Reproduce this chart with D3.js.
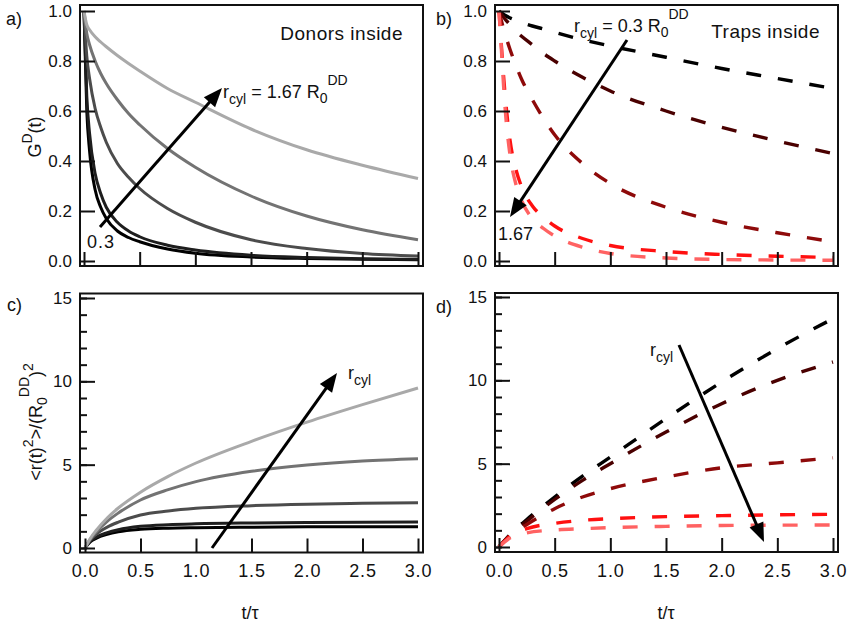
<!DOCTYPE html>
<html>
<head>
<meta charset="utf-8">
<script src="https://cdn.jsdelivr.net/npm/d3@7"></script>
<style>
  html, body { margin: 0; padding: 0; background: #fff; }
  svg { display: block; font-family: "Liberation Sans", Arial, Helvetica, sans-serif; }
</style>
</head>
<body>
<svg id="fig" width="851" height="628"></svg>
<script>
// ---- data -------------------------------------------------------------
// time grids (t / tau)
const tDecay = [0, 0.025, 0.05, 0.1, 0.15, 0.2, 0.3, 0.4, 0.5, 0.75, 1.0, 1.5, 2.0, 2.5, 3.0];
const tMsdDonors = [0, 0.05, 0.1, 0.2, 0.3, 0.5, 0.75, 1.0, 1.5, 2.0, 2.5, 3.0];
const tMsdTraps = [0, 0.1, 0.25, 0.5, 0.75, 1.0, 1.5, 2.0, 2.5, 3.0];

// a) G^D(t), donors inside, r_cyl from 0.3 (black) to 1.67 R0 (light grey)
const donorsG_r030 = [1, 0.60, 0.44, 0.285, 0.215, 0.17, 0.12, 0.094, 0.077, 0.048, 0.031, 0.016, 0.010, 0.007, 0.005];
const donorsG_r050 = [1, 0.66, 0.51, 0.35, 0.27, 0.215, 0.155, 0.12, 0.097, 0.063, 0.044, 0.023, 0.014, 0.009, 0.007];
const donorsG_r080 = [1, 0.82, 0.73, 0.61, 0.535, 0.475, 0.39, 0.335, 0.29, 0.21, 0.155, 0.085, 0.05, 0.03, 0.02];
const donorsG_r120 = [1, 0.91, 0.865, 0.80, 0.75, 0.71, 0.645, 0.59, 0.545, 0.45, 0.375, 0.26, 0.18, 0.125, 0.085];
const donorsG_r167 = [1, 0.945, 0.925, 0.897, 0.876, 0.857, 0.822, 0.79, 0.76, 0.69, 0.635, 0.528, 0.445, 0.383, 0.33];

// b) G^D(t), traps inside
const trapsG_r030 = [1, 0.991, 0.984, 0.972, 0.963, 0.955, 0.94, 0.928, 0.915, 0.885, 0.86, 0.815, 0.77, 0.73, 0.69];
const trapsG_r050 = [1, 0.985, 0.97, 0.945, 0.92, 0.90, 0.865, 0.83, 0.80, 0.735, 0.68, 0.60, 0.535, 0.48, 0.43];
const trapsG_r080 = [1, 0.955, 0.915, 0.845, 0.785, 0.73, 0.645, 0.57, 0.505, 0.39, 0.31, 0.215, 0.155, 0.113, 0.077];
const trapsG_r120 = [1, 0.84, 0.69, 0.48, 0.37, 0.30, 0.22, 0.175, 0.14, 0.09, 0.062, 0.038, 0.026, 0.019, 0.014];
const trapsG_r167 = [1, 0.82, 0.64, 0.42, 0.31, 0.245, 0.17, 0.13, 0.10, 0.055, 0.03, 0.012, 0.006, 0.004, 0.003];

// c) mean square displacement <r(t)^2>/(R0^DD)^2, donors inside
const donorsMsd_r030 = [0, 0.38, 0.58, 0.82, 0.97, 1.12, 1.19, 1.22, 1.25, 1.27, 1.28, 1.28];
const donorsMsd_r050 = [0, 0.42, 0.65, 0.92, 1.1, 1.3, 1.4, 1.45, 1.5, 1.53, 1.55, 1.56];
const donorsMsd_r080 = [0, 0.5, 0.82, 1.25, 1.55, 1.98, 2.22, 2.38, 2.54, 2.63, 2.68, 2.72];
const donorsMsd_r120 = [0, 0.55, 0.95, 1.6, 2.1, 2.88, 3.5, 3.98, 4.6, 4.98, 5.22, 5.36];
const donorsMsd_r167 = [0, 0.6, 1.05, 1.8, 2.4, 3.35, 4.3, 5.1, 6.4, 7.55, 8.6, 9.6];

// d) mean square displacement, traps inside
const trapsMsd_r030 = [0, 0.75, 1.65, 3.0, 4.25, 5.4, 7.7, 9.9, 11.9, 13.7];
const trapsMsd_r050 = [0, 0.72, 1.55, 2.85, 4.0, 5.0, 6.9, 8.6, 10.0, 11.1];
const trapsMsd_r080 = [0, 0.7, 1.35, 2.3, 3.0, 3.5, 4.2, 4.75, 5.05, 5.35];
const trapsMsd_r120 = [0, 0.65, 1.1, 1.42, 1.6, 1.7, 1.82, 1.88, 1.93, 1.96];
const trapsMsd_r167 = [0, 0.55, 0.85, 1.02, 1.1, 1.16, 1.24, 1.29, 1.31, 1.32];

// tick labels
const xTickValues = [0, 0.5, 1.0, 1.5, 2.0, 2.5, 3.0];
const xTickLabels = ["0.0", "0.5", "1.0", "1.5", "2.0", "2.5", "3.0"];
const gTickValues = [0, 0.2, 0.4, 0.6, 0.8, 1.0];
const gTickLabels = ["0.0", "0.2", "0.4", "0.6", "0.8", "1.0"];
const msdTickValues = [0, 5, 10, 15];
const msdTickLabels = ["0", "5", "10", "15"];
const msdMinorTicks = d3.range(0, 16, 1);

// line colours
const greyColors = ["#000000", "#1e1e1e", "#4c4c4c", "#737373", "#a9a9a9"];
const redColors = ["#000000", "#4a0000", "#8e0a0a", "#ff1010", "#ff6262"];

// ---- drawing ----------------------------------------------------------
const svg = d3.select("#fig");
const FONT_TICK = 17;

function makePanel(cfg) {
  const g = svg.append("g");
  const x = d3.scaleLinear().domain([0, 3]).range(cfg.xr);
  const y = d3.scaleLinear().domain(cfg.ydom).range(cfg.yr);

  // series
  const line = d3.line().x(d => x(d[0])).y(d => y(d[1])).curve(d3.curveMonotoneX);
  cfg.series.forEach((s, i) => {
    const pts = cfg.t.map((tv, k) => [tv, s[k]]);
    g.append("path")
      .attr("d", line(pts))
      .attr("fill", "none")
      .attr("stroke", cfg.colors[i])
      .attr("stroke-width", cfg.dashed ? 3.4 : 3)
      .attr("stroke-dasharray", cfg.dashed ? "15,17" : null)
      .attr("stroke-linejoin", "round");
  });

  // frame
  g.append("rect")
    .attr("x", cfg.frame[0]).attr("y", cfg.frame[1])
    .attr("width", cfg.frame[2] - cfg.frame[0])
    .attr("height", cfg.frame[3] - cfg.frame[1])
    .attr("fill", "none").attr("stroke", "#111").attr("stroke-width", 2);

  // x ticks (inside, bottom)
  const xAxis = d3.axisBottom(x).tickValues(xTickValues).tickSize(-14)
    .tickFormat((d, i) => cfg.xLabels ? xTickLabels[i] : "");
  const xa = g.append("g").attr("transform", `translate(0,${cfg.frame[3]})`).call(xAxis);
  xa.select(".domain").remove();
  xa.selectAll(".tick line").attr("stroke", "#111").attr("stroke-width", 2);
  xa.selectAll(".tick text").attr("font-size", 18).attr("fill", "#111")
    .attr("font-family", "Liberation Sans, Arial, sans-serif")
    .attr("letter-spacing", "0.8px")
    .attr("y", 12).attr("dy", "0.71em");

  // minor y ticks
  if (cfg.minor) {
    const ym = d3.axisLeft(y).tickValues(cfg.minor).tickSize(-7).tickFormat("");
    const yma = g.append("g").attr("transform", `translate(${cfg.frame[0]},0)`).call(ym);
    yma.select(".domain").remove();
    yma.selectAll(".tick line").attr("stroke", "#111").attr("stroke-width", 2);
  }
  // major y ticks
  const yAxis = d3.axisLeft(y).tickValues(cfg.yTicks).tickSize(-15)
    .tickFormat((d, i) => cfg.yLabels[i]);
  const ya = g.append("g").attr("transform", `translate(${cfg.frame[0]},0)`).call(yAxis);
  ya.select(".domain").remove();
  ya.selectAll(".tick line").attr("stroke", "#111").attr("stroke-width", 2);
  ya.selectAll(".tick text").attr("font-size", FONT_TICK).attr("fill", "#111")
    .attr("font-family", "Liberation Sans, Arial, sans-serif")
    .attr("x", -8);

  // panel letter
  svg.append("text").attr("x", cfg.letter[0]).attr("y", cfg.letter[1])
    .attr("font-size", 18).attr("fill", "#111").text(cfg.letter[2]);

  return { x, y, g };
}

// arrow helper
function arrow(x1, y1, x2, y2) {
  const ang = Math.atan2(y2 - y1, x2 - x1);
  const L = 19, Wd = 7.5;
  const bx = x2 - L * Math.cos(ang), by = y2 - L * Math.sin(ang);
  svg.append("line").attr("x1", x1).attr("y1", y1)
    .attr("x2", bx + 2 * Math.cos(ang)).attr("y2", by + 2 * Math.sin(ang))
    .attr("stroke", "#000").attr("stroke-width", 3);
  const px = -Math.sin(ang), py = Math.cos(ang);
  svg.append("path")
    .attr("d", `M${x2},${y2}L${bx + px * Wd},${by + py * Wd}L${bx - px * Wd},${by - py * Wd}Z`)
    .attr("fill", "#000");
}

// r_cyl = value R0^DD label
function rcylLabel(x, y, value) {
  const t = svg.append("text").attr("x", x).attr("y", y).attr("font-size", 18).attr("fill", "#111");
  t.append("tspan").text("r");
  t.append("tspan").attr("font-size", 14).attr("dy", 6).text("cyl");
  if (value !== null) {
    t.append("tspan").attr("dy", -6).text(" = " + value + " R");
    t.append("tspan").attr("font-size", 14).attr("dy", 5).text("0");
    t.append("tspan").attr("font-size", 14).attr("dy", -18).text("DD");
  }
}

// a)
makePanel({
  frame: [80, 5, 423, 266], xr: [84, 418], ydom: [0, 1], yr: [261, 11],
  t: tDecay,
  series: [donorsG_r030, donorsG_r050, donorsG_r080, donorsG_r120, donorsG_r167],
  colors: greyColors, dashed: false,
  yTicks: gTickValues, yLabels: gTickLabels, xLabels: false,
  letter: [6, 25, "a)"]
});
// b)
makePanel({
  frame: [495, 5, 838, 266], xr: [499, 833], ydom: [0, 1], yr: [261, 11],
  t: tDecay,
  series: [trapsG_r030, trapsG_r050, trapsG_r080, trapsG_r120, trapsG_r167],
  colors: redColors, dashed: true,
  yTicks: gTickValues, yLabels: gTickLabels, xLabels: false,
  letter: [436, 25, "b)"]
});
// c)
makePanel({
  frame: [80, 293.5, 423, 552.5], xr: [85, 418], ydom: [0, 15], yr: [548, 298],
  t: tMsdDonors,
  series: [donorsMsd_r030, donorsMsd_r050, donorsMsd_r080, donorsMsd_r120, donorsMsd_r167],
  colors: greyColors, dashed: false,
  yTicks: msdTickValues, yLabels: msdTickLabels, minor: msdMinorTicks, xLabels: true,
  letter: [7, 311, "c)"]
});
// d)
makePanel({
  frame: [495, 293, 838, 552], xr: [499, 833], ydom: [0, 15], yr: [547, 297],
  t: tMsdTraps,
  series: [trapsMsd_r030, trapsMsd_r050, trapsMsd_r080, trapsMsd_r120, trapsMsd_r167],
  colors: redColors, dashed: true,
  yTicks: msdTickValues, yLabels: msdTickLabels, minor: msdMinorTicks, xLabels: true,
  letter: [436, 313, "d)"]
});

// axis titles
const gLab = svg.append("text").attr("transform", "translate(41,137) rotate(-90)")
  .attr("text-anchor", "middle").attr("font-size", 18).attr("fill", "#111");
gLab.append("tspan").text("G");
gLab.append("tspan").attr("font-size", 14).attr("dy", -9).text("D");
gLab.append("tspan").attr("dy", 9).text("(t)");

const mLab = svg.append("text").attr("transform", "translate(42,422) rotate(-90)")
  .attr("text-anchor", "middle").attr("font-size", 18).attr("fill", "#111");
mLab.append("tspan").text("<r(t)");
mLab.append("tspan").attr("font-size", 14).attr("dy", -9).text("2");
mLab.append("tspan").attr("dy", 9).text(">/(R");
mLab.append("tspan").attr("font-size", 14).attr("dy", 5).text("0");
mLab.append("tspan").attr("font-size", 14).attr("dy", -18).text("DD");
mLab.append("tspan").attr("dy", 13).text(")");
mLab.append("tspan").attr("font-size", 14).attr("dy", -9).text("2");

svg.append("text").attr("x", 250).attr("y", 619).attr("text-anchor", "middle")
  .attr("font-size", 18).attr("fill", "#111").text("t/τ");
svg.append("text").attr("x", 666).attr("y", 619).attr("text-anchor", "middle")
  .attr("font-size", 18).attr("fill", "#111").text("t/τ");

// annotations
svg.append("text").attr("x", 403).attr("y", 40).attr("text-anchor", "end")
  .attr("font-size", 19).attr("letter-spacing", "0.5px").attr("fill", "#111").text("Donors inside");
svg.append("text").attr("x", 820).attr("y", 38).attr("text-anchor", "end")
  .attr("font-size", 19).attr("letter-spacing", "0.5px").attr("fill", "#111").text("Traps inside");

arrow(100, 227, 222, 88);
rcylLabel(223, 98, "1.67");
svg.append("text").attr("x", 87).attr("y", 248).attr("font-size", 18)
  .attr("letter-spacing", "1px").attr("fill", "#111").text("0.3");

arrow(627, 40, 510, 217);
rcylLabel(574, 32, "0.3");
svg.append("text").attr("x", 498).attr("y", 240).attr("font-size", 18).attr("fill", "#111").text("1.67");

arrow(212, 548, 337, 373);
rcylLabel(348, 379, null);

arrow(679, 345, 764, 542);
rcylLabel(650, 356, null);
</script>
</body>
</html>
